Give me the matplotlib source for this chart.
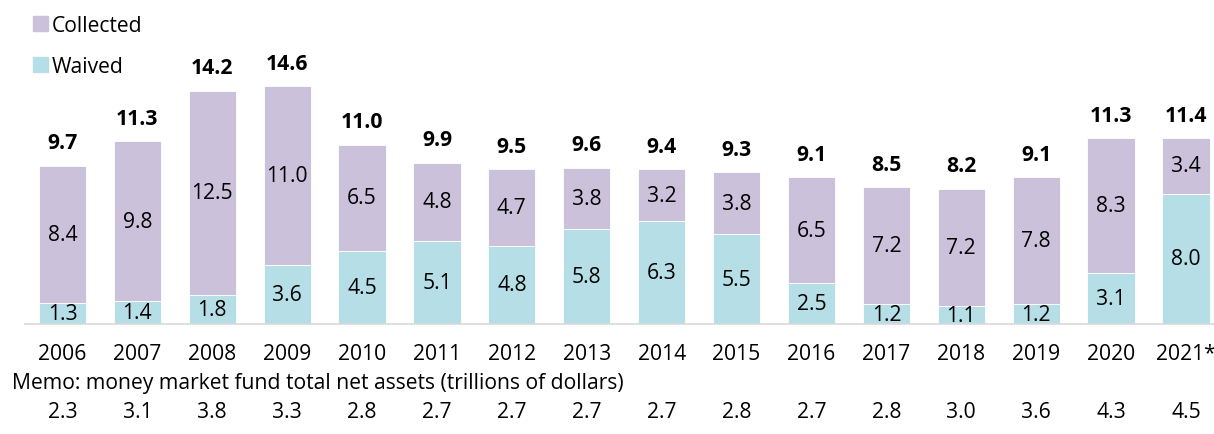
import matplotlib.pyplot as plt
from matplotlib.patches import Patch
from matplotlib.transforms import blended_transform_factory

years = ["2006", "2007", "2008", "2009", "2010", "2011", "2012", "2013",
         "2014", "2015", "2016", "2017", "2018", "2019", "2020", "2021*"]
waived = [1.3, 1.4, 1.8, 3.6, 4.5, 5.1, 4.8, 5.8, 6.3, 5.5, 2.5, 1.2, 1.1, 1.2, 3.1, 8.0]
collected = [8.4, 9.8, 12.5, 11.0, 6.5, 4.8, 4.7, 3.8, 3.2, 3.8, 6.5, 7.2, 7.2, 7.8, 8.3, 3.4]
totals = [9.7, 11.3, 14.2, 14.6, 11.0, 9.9, 9.5, 9.6, 9.4, 9.3, 9.1, 8.5, 8.2, 9.1, 11.3, 11.4]
memo_assets = [2.3, 3.1, 3.8, 3.3, 2.8, 2.7, 2.7, 2.7, 2.7, 2.8, 2.7, 2.8, 3.0, 3.6, 4.3, 4.5]
memo_title = "Memo: money market fund total net assets (trillions of dollars)"

purple = "#cbc1db"
blue = "#b5dee6"
plt.rcParams["font.family"] = ["Open Sans", "DejaVu Sans"]

fig = plt.figure(figsize=(12.14, 4.35), dpi=100)
ax = fig.add_axes([25 / 1214, 110 / 435, 1 - 25 / 1214, 325 / 435])

x = list(range(len(years)))
ax.bar(x, waived, width=0.63, color=blue, edgecolor="white", linewidth=0.6)
ax.bar(x, collected, bottom=waived, width=0.63, color=purple, edgecolor="white", linewidth=0.6)

fs = 15.2
for i in x:
    ax.text(i, waived[i] / 2, f"{waived[i]:.1f}", ha="center", va="center", fontsize=fs)
    ax.text(i, waived[i] + collected[i] / 2, f"{collected[i]:.1f}", ha="center",
            va="center", fontsize=fs)
    ax.annotate(f"{totals[i]:.1f}", (i, waived[i] + collected[i]), xytext=(0, 9),
                textcoords="offset points", ha="center", va="bottom",
                fontsize=fs, fontweight="bold")

ax.set_xlim(-0.5, 15.374)
ax.set_ylim(0, 19.94)
ax.set_xticks([])
ax.set_yticks([])
for side in ["top", "right", "left"]:
    ax.spines[side].set_visible(False)
ax.spines["bottom"].set_color("#d9d9d9")
ax.spines["bottom"].set_linewidth(1.2)

trans = blended_transform_factory(ax.transData, fig.transFigure)
for i in x:
    fig.text(i, 1 - 355 / 435, years[i], transform=trans, ha="center", va="center", fontsize=fs)
    fig.text(i, 1 - 413 / 435, f"{memo_assets[i]:.1f}", transform=trans,
             ha="center", va="center", fontsize=fs)
fig.text(12 / 1214, 1 - 384 / 435, memo_title, ha="left", va="center", fontsize=fs)

handles = [Patch(color=purple), Patch(color=blue)]
fig.legend(handles, ["Collected", "Waived"], loc="upper left",
           bbox_to_anchor=(14 / 1214, 1 + 3 / 435), frameon=False,
           handlelength=0.7, handleheight=0.7, handletextpad=0.2,
           labelspacing=0.95, fontsize=fs)

fig.savefig("out.png", dpi=100)
